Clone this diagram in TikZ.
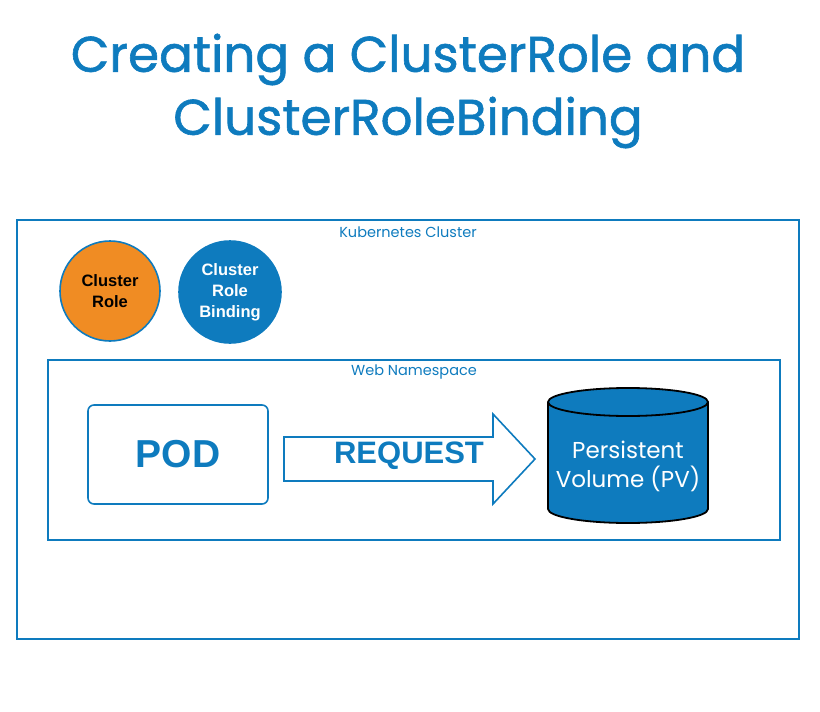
\documentclass[tikz,border=0pt]{standalone}
\usepackage{fontspec}
\setmainfont{Liberation Sans}
\newfontfamily\titlefont{Poppins}
\newfontfamily\titlefontb{Poppins}[FakeBold=1.2]
\usetikzlibrary{shapes.geometric}
\definecolor{kblue}{HTML}{0E7BBE}
\definecolor{korange}{HTML}{F08C23}
\tikzset{
  frame/.style={draw=kblue, line width=2pt},
  circ/.style={circle, draw=kblue, line width=1.6pt, minimum size=100pt, inner sep=0pt, align=center, font=\fontsize{16.5}{21}\selectfont\bfseries},
  lbl/.style={text=kblue, font=\titlefont\fontsize{14.5}{16}\selectfont},
}
\begin{document}
\begin{tikzpicture}[x=1pt,y=-1pt]
\useasboundingbox (0,0) rectangle (820,712);
\node[text=kblue, font=\titlefontb\fontsize{50}{63}\selectfont, align=center] (title) at (408,91) {Creating a ClusterRole and\\ClusterRoleBinding};
\draw[frame] (17,220) rectangle (799,639);
\node[lbl] (kc) at (408,232) {Kubernetes Cluster};
\node[circ, fill=korange, text=black] (cr) at (110,291) {Cluster\\Role};
\node[circ, fill=kblue, text=white, minimum size=102pt] (crb) at (230,292) {Cluster\\Role\\Binding};
\draw[frame] (48,360) rectangle (780,540);
\node[lbl] (wn) at (414,372) {Web Namespace};
\draw[draw=kblue, line width=1.6pt, rounded corners=6pt] (88,405) rectangle (268,504);
\node[text=kblue, font=\fontsize{39}{42}\selectfont\bfseries] (pod) at (178,454) {POD};
\draw[draw=kblue, line width=1.6pt, line join=miter] (284,437) -- (493,437) -- (493,414) -- (535,459) -- (493,504) -- (493,481) -- (284,481) -- cycle;
\node[text=kblue, font=\fontsize{31}{34}\selectfont\bfseries] (req) at (409,456) {REQUEST};
\draw[fill=kblue, draw=black, line width=1.8pt] (548,402) -- (548,509) arc[start angle=180, end angle=0, x radius=80, y radius=14] -- (708,402) arc[start angle=0, end angle=-180, x radius=80, y radius=14] -- cycle;
\draw[draw=black, line width=1.8pt] (548,402) arc[start angle=180, end angle=0, x radius=80, y radius=14];
\node[text=white, align=center, font=\titlefont\fontsize{23}{29}\selectfont] (pv) at (628,466) {Persistent\\Volume (PV)};
\end{tikzpicture}
\end{document}
